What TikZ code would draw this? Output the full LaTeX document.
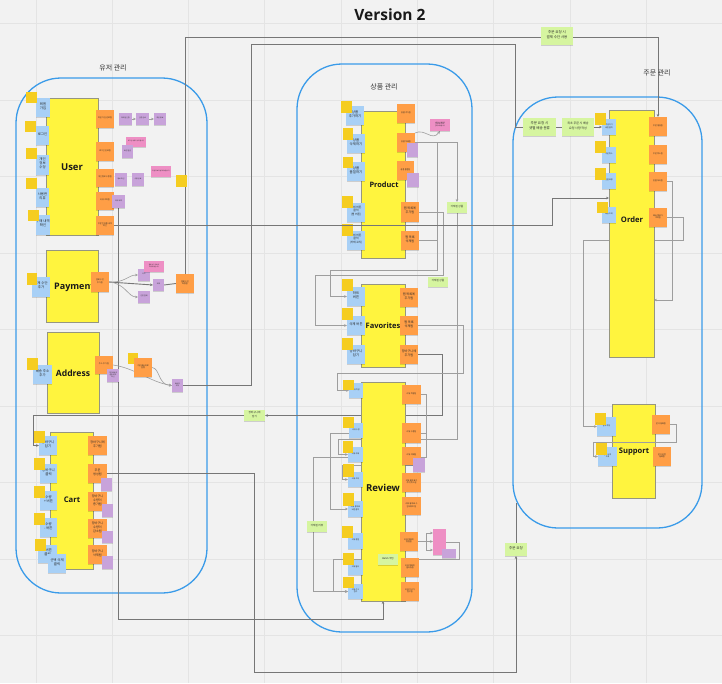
\documentclass[tikz,border=0pt]{standalone}
\usepackage{fontspec}
\setmainfont{Noto Sans CJK KR}
\newfontfamily\osans{Open Sans}
\usetikzlibrary{fit,shadows,arrows.meta}
\definecolor{bgc}{RGB}{242,242,242}
\definecolor{gridc}{RGB}{228,228,228}
\definecolor{grpBlue}{RGB}{58,155,233}
\definecolor{entY}{RGB}{255,244,62}
\definecolor{entB}{RGB}{150,150,128}
\definecolor{stBlue}{RGB}{168,208,246}
\definecolor{stOrange}{RGB}{255,158,70}
\definecolor{stPurple}{RGB}{200,163,218}
\definecolor{stPink}{RGB}{238,143,196}
\definecolor{stYellow}{RGB}{245,205,32}
\definecolor{stGreen}{RGB}{214,245,160}
\definecolor{lnDark}{RGB}{118,118,118}
\definecolor{lnLight}{RGB}{158,158,158}
\definecolor{txt}{RGB}{40,40,40}
\pgfdeclarelayer{bgl}
\pgfdeclarelayer{conn}
\pgfdeclarelayer{topl}
\pgfsetlayers{bgl,conn,main,topl}
\newcommand\sk[7]{\node[#1, fit={(#3,#4) (#5,#6)}] (#2) {#7};}
\begin{document}
\begin{tikzpicture}[x=1pt,y=-1pt,
  stbase/.style={inner sep=0pt, outer sep=0pt, align=center, text=txt},
  shd/.style={drop shadow={shadow xshift=0.3pt,shadow yshift=-0.7pt,opacity=0.15,fill=black}},
  blu/.style={stbase, shd, fill=stBlue, font=\fontsize{3.4}{4.1}\selectfont},
  bluS/.style={blu, font=\fontsize{1.9}{2.4}\selectfont},
  org/.style={stbase, shd, fill=stOrange, font=\fontsize{2.0}{2.5}\selectfont},
  orgL/.style={org, font=\fontsize{3.1}{3.8}\selectfont},
  pur/.style={stbase, shd, fill=stPurple, font=\fontsize{1.7}{2.1}\selectfont},
  pnk/.style={stbase, shd, fill=stPink, font=\fontsize{1.5}{1.9}\selectfont},
  ylw/.style={stbase, fill=stYellow},
  grn/.style={stbase, shd, fill=stGreen, font=\fontsize{3.5}{4.3}\selectfont},
  ent/.style={stbase, fill=entY, draw=entB, line width=0.7pt},
  elbl/.style={font=\osans\bfseries\fontsize{9}{10}\selectfont, text=black!90, inner sep=0pt},
  glbl/.style={font=\fontsize{7}{8}\selectfont, text=black!80, inner sep=0pt},
  grp/.style={draw=grpBlue, line width=1.3pt, rounded corners=45pt, inner sep=0pt},
  cd/.style={draw=lnDark, line width=0.9pt},
  cl/.style={draw=lnLight, line width=0.6pt},
  arr/.style={-{Stealth[length=3pt,width=2.6pt]}}
]
\useasboundingbox (0,0) rectangle (722,683);
\begin{pgfonlayer}{bgl}
\fill[bgc] (0,0) rectangle (722,683);
\foreach \gx in {36,112.3,188.6,264.9,341.2,417.5,493.8,570.1,646.4}
  \draw[gridc, line width=1pt] (\gx,0) -- (\gx,683);
\foreach \gy in {23.5,100,176.5,253,329.5,406,482.5,559,635.5}
  \draw[gridc, line width=1pt] (0,\gy) -- (722,\gy);
\node[grp, fit={(16,78) (207,593)}] (G1) {};
\node[grp, fit={(297,64) (472,632)}] (G2) {};
\node[grp, fit={(513,97) (702,528)}] (G3) {};
\end{pgfonlayer}

\node[elbl, font=\osans\bfseries\fontsize{15.5}{17}\selectfont] (title) at (390,15) {Version 2};
\node[glbl] (G1l) at (113,68) {유저 관리};
\node[glbl] (G2l) at (384,87) {상품 관리};
\node[glbl] (G3l) at (657,73) {주문 관리};

% ---------- entities ----------
\sk{ent}{UserE}{46}{98}{98}{235}{}
\sk{ent}{PayE}{46}{250}{98}{322}{}
\sk{ent}{AddrE}{47}{332}{99}{413}{}
\sk{ent}{CartE}{50}{432}{93}{569}{}
\sk{ent}{ProdE}{361}{111}{405}{258}{}
\sk{ent}{FavE}{361}{284}{405}{367}{}
\sk{ent}{RevE}{361}{382}{405}{601}{}
\sk{ent}{OrdE}{609}{110}{654}{357}{}
\sk{ent}{SupE}{612}{404}{655}{498}{}
\node[elbl, font=\osans\bfseries\fontsize{9.5}{10}\selectfont] (LUser) at (72,167) {User};
\node[elbl, anchor=west] (LPay) at (54,287) {Payment};
\node[elbl, font=\osans\bfseries\fontsize{8.6}{10}\selectfont] (LAddr) at (73,373) {Address};
\node[elbl, font=\osans\bfseries\fontsize{7.7}{9}\selectfont] (LCart) at (72,500) {Cart};
\node[elbl, font=\osans\bfseries\fontsize{7.4}{9}\selectfont] (LProd) at (384,185) {Product};
\node[elbl, font=\osans\bfseries\fontsize{7.5}{9}\selectfont] (LFav) at (383,326) {Favorites};
\node[elbl, font=\osans\bfseries\fontsize{9.6}{11}\selectfont] (LRev) at (383,488) {Review};
\node[elbl, font=\osans\bfseries\fontsize{7.6}{9}\selectfont] (LOrd) at (632,220) {Order};
\node[elbl, font=\osans\bfseries\fontsize{7.6}{9}\selectfont] (LSup) at (634,452) {Support};

% ---------- User ----------
\sk{blu}{UB1}{36}{98}{50}{117}{회원\\가입}
\sk{blu}{UB2}{36}{126}{49}{145}{로그인}
\sk{blu}{UB3}{36}{155}{49}{175}{개인 정보\\수정}
\sk{blu}{UB4}{36}{188}{49}{207}{사용한\\리뷰}
\sk{blu}{UB5}{36}{215}{50}{235}{구매 내역\\확인}
\sk{ylw}{UY1}{26}{92}{37}{103}{}
\sk{ylw}{UY2}{25}{121}{36}{132}{}
\sk{ylw}{UY3}{26}{148}{37}{159}{}
\sk{ylw}{UY4}{26}{178}{37}{189}{}
\sk{ylw}{UY5}{28}{210}{39}{221}{}
\sk{org}{UO1}{96}{110}{114}{128}{회원 가입 완료됨}
\sk{org}{UO2}{96}{142}{114}{161}{로그인 완료됨}
\sk{org}{UO3}{96}{169}{114}{187}{개인정보 수정됨}
\sk{org}{UO4}{96}{192}{114}{210}{리뷰 조회됨}
\sk{org}{UO5}{96}{216}{114}{235}{주문한 상품 내역\\확인}
\sk{pur}{UP1}{119}{113}{132}{125}{이메일 인증}
\sk{pur}{UP2}{136}{113}{149}{125}{인증 완료}
\sk{pur}{UP3}{154}{113}{166}{125}{회원 정보}
\sk{pnk}{UPk1}{126}{137}{146}{147}{로그인 상태가 유지됩니다}
\sk{pur}{UP4}{122}{145}{133}{158}{토큰 발급}
\sk{pur}{UP5}{115}{173}{127}{186}{정보 확인}
\sk{pur}{UP6}{132}{173}{144}{186}{수정 완료}
\sk{pnk}{UPk2}{151}{166}{171}{177}{회원 정보가 변경되었습니다}
\sk{ylw}{UY6}{176}{175}{187}{187}{}
\sk{pur}{UP7}{112}{195}{125}{208}{리뷰 목록}

% ---------- Payment ----------
\sk{blu}{PB1}{32}{277}{50}{297}{결제 수단\\추가}
\sk{ylw}{PY1}{27}{273}{37}{285}{}
\sk{org}{PO1}{91}{272}{109}{292}{결제 수단\\추가됨}
\sk{pur}{PP1}{138}{269}{150}{281}{카드}
\sk{pnk}{PPk}{144}{261}{164}{272}{결제 수단 정보가\\저장되었습니다}
\sk{pur}{PP2}{153}{279}{164}{291}{계좌}
\sk{pur}{PP3}{138}{291}{150}{303}{간편 결제}
\sk{org}{PO2}{176}{274}{194}{293}{결제 수단\\저장됨}

% ---------- Address ----------
\sk{blu}{AB1}{33}{365}{52}{384}{배송 주소\\추가}
\sk{ylw}{AY1}{27}{358}{38}{370}{}
\sk{org}{AO1}{95}{356}{113}{374}{주소 추가 됨}
\sk{pur}{AP1}{107}{369}{119}{382}{기본 배송지\\설정 여부\\확인}
\sk{ylw}{AY2}{128}{353}{138}{364}{}
\sk{org}{AO2}{134}{358}{152}{377}{기본 배송지로\\설정}
\sk{pur}{AP2}{172}{379}{183}{392}{배송지\\저장}

% ---------- Cart ----------
\sk{blu}{CB1}{39}{436}{57}{455}{장바구니\\담기}
\sk{blu}{CB2}{40}{464}{57}{483}{장바구니\\클릭}
\sk{blu}{CB3}{40}{491}{57}{510}{수량\\+ 버튼}
\sk{blu}{CB4}{40}{518}{57}{537}{수량\\- 버튼}
\sk{blu}{CB5}{38}{545}{57}{563}{X 버튼\\클릭}
\sk{blu}{CB6}{48}{554}{66}{573}{선택 삭제\\클릭}
\sk{ylw}{CY1}{34}{431}{45}{443}{}
\sk{ylw}{CY2}{34}{458}{45}{470}{}
\sk{ylw}{CY3}{34}{486}{45}{498}{}
\sk{ylw}{CY4}{34}{513}{45}{525}{}
\sk{ylw}{CY5}{35}{539}{46}{551}{}
\sk{orgL}{CO1}{88}{436}{107}{455}{장바구니에\\추가됨}
\sk{orgL}{CO2}{88}{464}{107}{483}{주문\\생성됨}
\sk{orgL}{CO3}{88}{492}{107}{511}{장바구니\\수량이\\증가됨}
\sk{orgL}{CO4}{88}{519}{107}{538}{장바구니\\수량이\\감소됨}
\sk{orgL}{CO5}{88}{545}{107}{564}{장바구니\\삭제됨}
\sk{pur}{CP2}{101}{478}{112}{491}{}
\sk{pur}{CP3}{102}{504}{113}{517}{}
\sk{pur}{CP4}{102}{531}{113}{543}{}
\sk{pur}{CP5}{102}{556}{113}{569}{}

% ---------- Product ----------
\sk{blu}{PrB1}{346}{106}{364}{125}{상품\\추가하기}
\sk{blu}{PrB2}{347}{134}{365}{153}{상품\\삭제하기}
\sk{blu}{PrB3}{347}{162}{365}{181}{상품\\품절하기}
\sk{blu}{PrB4}{347}{203}{365}{222}{\fontsize{2.8}{3.4}\selectfont 조회 버튼\\클릭\\(찜 버튼)}
\sk{blu}{PrB5}{347}{231}{365}{250}{\fontsize{2.8}{3.4}\selectfont 조회 버튼\\클릭\\(카테고리)}
\sk{ylw}{PrY1}{341}{101}{352}{113}{}
\sk{ylw}{PrY2}{343}{128}{353}{140}{}
\sk{ylw}{PrY3}{343}{157}{353}{168}{}
\sk{ylw}{PrY4}{342}{196}{353}{208}{}
\sk{ylw}{PrY5}{342}{224}{353}{236}{}
\sk{org}{PrO1}{397}{104}{415}{123}{상품 추가됨}
\sk{org}{PrO2}{397}{133}{415}{152}{상품 삭제됨}
\sk{org}{PrO3}{397}{161}{414}{180}{상품 품절됨}
\sk{orgL}{PrO4}{401}{202}{419}{222}{찜 목록에\\추가됨}
\sk{orgL}{PrO5}{401}{231}{419}{250}{찜 목록\\삭제됨}
\sk{pur}{PrP2}{407}{143}{418}{157}{}
\sk{pur}{PrP3}{407}{173}{419}{187}{}
\sk{pnk}{PrPk}{430}{119}{450}{131}{상품이 삭제되면\\관련 데이터도\\함께 삭제됩니다}
\sk{grn}{PrG}{447}{202}{467}{213}{\fontsize{2.6}{3.2}\selectfont 삭제된 상품}

% ---------- Favorites ----------
\sk{blu}{FB1}{347}{287}{365}{306}{하트\\버튼}
\sk{blu}{FB2}{347}{316}{365}{335}{삭제 버튼}
\sk{blu}{FB3}{347}{345}{365}{364}{장바구니\\담기}
\sk{ylw}{FY1}{342}{279}{353}{291}{}
\sk{ylw}{FY2}{342}{308}{353}{320}{}
\sk{ylw}{FY3}{342}{338}{353}{350}{}
\sk{orgL}{FO1}{400}{288}{418}{307}{찜 목록에\\추가됨}
\sk{orgL}{FO2}{400}{316}{418}{335}{찜 목록\\삭제됨}
\sk{orgL}{FO3}{400}{345}{418}{364}{장바구니에\\추가됨}
\sk{grn}{FG}{428}{277}{448}{287}{\fontsize{2.6}{3.2}\selectfont 삭제된 상품}

% ---------- Review ----------
\sk{bluS}{RB1}{349}{383}{363}{398}{리뷰 작성}
\sk{bluS}{RB2}{349}{423}{363}{438}{리뷰 수정}
\sk{bluS}{RB3}{348}{447}{363}{462}{리뷰 삭제}
\sk{bluS}{RB4}{348}{472}{363}{487}{리뷰 조회}
\sk{bluS}{RB5}{348}{501}{363}{517}{리뷰 좋아요\\버튼 클릭}
\sk{bluS}{RB6}{348}{533}{363}{549}{리뷰 정렬}
\sk{bluS}{RB7}{348}{560}{363}{575}{리뷰 필터}
\sk{bluS}{RB8}{348}{584}{363}{599}{리뷰 신고\\접수}
\sk{ylw}{RY1}{343}{380}{354}{390}{}
\sk{ylw}{RY2}{343}{417}{354}{428}{}
\sk{ylw}{RY3}{343}{441}{353}{453}{}
\sk{ylw}{RY4}{343}{464}{354}{477}{}
\sk{ylw}{RY5}{343}{493}{354}{506}{}
\sk{ylw}{RY6}{342}{526}{353}{538}{}
\sk{ylw}{RY7}{343}{553}{354}{565}{}
\sk{ylw}{RY8}{343}{577}{354}{588}{}
\sk{org}{RO1}{402}{385}{421}{404}{리뷰 작성됨}
\sk{org}{RO2}{402}{423}{421}{443}{리뷰 수정됨}
\sk{org}{RO3}{402}{447}{421}{465}{리뷰 삭제됨}
\sk{org}{RO4}{402}{473}{421}{492}{리뷰 좋아요가\\추가/취소됨}
\sk{org}{RO5}{402}{497}{421}{515}{리뷰 좋아요 수\\업데이트 됨}
\sk{org}{RO6}{400}{532}{418}{551}{리뷰 목록이\\정렬됨}
\sk{org}{RO7}{401}{558}{419}{577}{리뷰 목록이\\필터링됨}
\sk{org}{RO8}{401}{582}{419}{601}{리뷰 신고가\\접수됨}
\sk{pur}{RP}{413}{458}{425}{472}{}
\sk{pnk}{RPk}{433}{529}{446}{555}{}
\sk{pur}{RP2}{442}{549}{456}{558}{}
\sk{grn}{RG}{307}{521}{327}{532}{\fontsize{2.6}{3.2}\selectfont 삭제된 리뷰}
\sk{grn}{RG2}{378}{554}{398}{565}{\fontsize{2.4}{3}\selectfont Batch 작업}

% ---------- Order ----------
\sk{bluS}{OB1}{602}{119}{616}{135}{주문하기\\버튼 클릭}
\sk{bluS}{OB2}{602}{147}{616}{163}{주문 취소}
\sk{bluS}{OB3}{602}{173}{616}{189}{환불 요청}
\sk{bluS}{OB4}{602}{207}{616}{223}{배송 조회}
\sk{ylw}{OY1}{595}{113}{606}{125}{}
\sk{ylw}{OY2}{595}{141}{606}{153}{}
\sk{ylw}{OY3}{595}{168}{606}{180}{}
\sk{ylw}{OY4}{597}{202}{608}{213}{}
\sk{org}{OO1}{649}{117}{667}{136}{주문 생성됨}
\sk{org}{OO2}{649}{145}{667}{164}{주문 취소됨}
\sk{org}{OO3}{649}{172}{667}{191}{환불 처리됨}
\sk{org}{OO4}{649}{208}{667}{227}{배송 정보가\\조회됨}
\sk{grn}{TopG}{541}{27}{573}{45}{주문 요청 시\\결제 수단 사용}
\sk{grn}{OG1}{523}{118}{556}{136}{주문 요청 시\\샛별 배송 분류}
\sk{grn}{OG2}{562}{118}{594}{136}{\fontsize{3}{3.8}\selectfont 최초 주문 시 배송\\요청 사항 작성}
\sk{grn}{OrdReqG}{505}{543}{527}{556}{주문 요청}
\sk{grn}{CG}{244}{410}{265}{421}{\fontsize{2.6}{3.2}\selectfont 장바구니에\\담기}

% ---------- Support ----------
\sk{bluS}{SB1}{597}{417}{616}{436}{문의 작성}
\sk{bluS}{SB2}{598}{447}{617}{466}{문의 내역\\조회}
\sk{ylw}{SY1}{595}{413}{606}{425}{}
\sk{ylw}{SY2}{596}{443}{607}{455}{}
\sk{org}{SO1}{652}{415}{670}{434}{문의 등록됨}
\sk{org}{SO2}{653}{447}{671}{466}{문의 답변\\등록됨}

% ---------- connectors ----------
\begin{pgfonlayer}{conn}
\draw[cd,arr] (PO2.north) -- (185,37) -- (658,37) -- (OO1.north);
\draw[cd] (AP2.east) -- (251,385.5) -- (251,44) -- (515,44) -- (515,127) -- (OG1.west);
\draw[cd] (OG1.east) -- (OG2.west);
\draw[cd,arr] (OG2.east) -- (OB1.west);
\draw[cd,arr] (OB1.east) -- (OO1.west);
\draw[cd,arr] (UP7.south) -- (118.5,619) -- (383,619) -- (RevE.south);
\draw[cd,arr] (CO2.east) -- (254,473.5) -- (254,672) -- (516,672) -- (OrdReqG.south);
\draw[cd] (OrdReqG.north) -- (516,503);
\draw[cl,arr] (PO1.east) .. controls (125,283) and (128,275) .. (PP1.west);
\draw[cd,arr] (PO1.east) -- (PP2.west);
\draw[cl,arr] (PO1.east) .. controls (125,283) and (128,297) .. (PP3.west);
\draw[cd] (PP2.east) -- (PO2.west);
\draw[cl,arr] (AO1.east) .. controls (135,368) and (150,382) .. (AP2.west);
\draw[cl,arr] (AO2.east) .. controls (160,368) and (158,385) .. (AP2.west);
\draw[cl,arr] (UP1.east) -- (UP2.west);
\draw[cl,arr] (UP2.east) -- (UP3.west);
\draw[cd,arr] (FO3.east) -- (442,354.5) -- (442,415.5) -- (CG.east);
\draw[cd,arr] (CG.west) -- (33,415.5) -- (33,445.5) -- (CB1.west);
\draw[cl,arr] (PrO2.east) -- (457,142.5) -- (PrG.north);
\draw[cl,arr] (PrO2.north east) .. controls (425,128) and (432,142) .. (PrPk.south);
\draw[cl] (PrO2.east) -- (437,142.5) -- (437,241);
\draw[cl,arr] (PrO5.east) -- (437,240.5) -- (437,270) -- (330,270) -- (330,296.5) -- (FB1.west);
\draw[cl,arr] (PrO4.east) -- (443,212) -- (443,275) -- (315,275) -- (315,325.5) -- (FB2.west);
\draw[cl,arr] (PrG.south) -- (457,439) -- (338,439) -- (338,454.5) -- (RB3.west);
\draw[cl,arr] (FO2.east) -- (463,325.5) -- (463,373) -- (337,373) -- (337,390.5) -- (RB1.west);
\draw[cl,arr] (OO4.east) -- (683,217.5) -- (683,240) -- (583,240) -- (583,426.5) -- (SB1.west);
\draw[cl,arr] (OO3.east) -- (672,181.5) -- (672,300) -- (OrdE.east |- 0,300);
\draw[cl,arr] (RO1.east) -- (426,394.5) -- (426,457) -- (313,457) -- (313,591.5) -- (RB8.west);
\draw[cl,arr] (426,433) -- (330,433) -- (330,509) -- (RB5.west);
\draw[cl,arr] (RP.west) -- (342,465) -- (342,479.5) -- (RB4.west);
\draw[cl] (RO6.east) -- (426,541.5);
\draw[cl] (426,533) -- (426,550);
\draw[cl,arr] (426,533) -- (433,533);
\draw[cl,arr] (426,541.5) -- (433,541.5);
\draw[cl,arr] (426,550) -- (433,550);
\draw[cl,arr] (RPk.east) -- (459,542) -- (459,559) -- (333,559) -- (333,591.5) -- (RB8.west);
\end{pgfonlayer}
\begin{pgfonlayer}{topl}
\draw[cd,arr] (UO5.east) -- (552,225.5) -- (552,198) -- (OrdE.west |- 0,198);
\draw[cl,arr] (SO1.east) -- (676,424.5) -- (676,442) -- (593,442) -- (593,456.5) -- (SB2.west);
\end{pgfonlayer}
\end{tikzpicture}
\end{document}
